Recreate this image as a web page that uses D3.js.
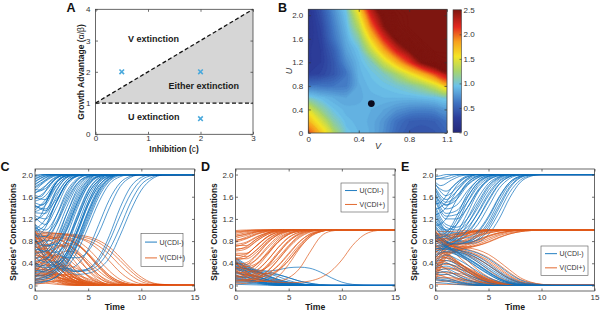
<!DOCTYPE html>
<html><head><meta charset="utf-8">
<script src="https://cdn.jsdelivr.net/npm/d3@7"></script>
<style>body{margin:0;background:#fff}svg{display:block}</style>
</head><body><svg width="600" height="312"></svg>
<script>
// ---------------- DATA ----------------
// Panel A: phase diagram
const aXTicks = [0, 1, 2, 3];
const aYTicks = [0, 1, 2, 3, 4];
const aDiagLine = [[0, 1], [3, 4]];
const aFlatLine = [[0, 1], [3, 1]];
const aCrosses = [[0.5, 2], [2, 2], [2, 0.5]];
const aRegionText = ["V extinction", "Either extinction", "U extinction"];
const aRegionAt = [[0.62, 2.96], [1.39, 1.45], [0.62, 0.45]];

// Panel B: heat map (rows: U values, cols: V values)
const bV = [0, 0.1, 0.2, 0.3, 0.4, 0.5, 0.6, 0.7, 0.8, 0.9, 1.0, 1.1];
const bU = [0, 0.2, 0.4, 0.6, 0.8, 1.0, 1.2, 1.4, 1.6, 1.8, 2.0, 2.2];
const bValues = [
  [2.05, 1.7, 1.3, 0.97, 0.9, 0.85, 0.72, 0.55, 0.45, 0.42, 0.45, 0.52],
  [1.75, 1.45, 1.1, 0.92, 0.88, 0.85, 0.75, 0.6, 0.5, 0.48, 0.5, 0.6],
  [1.45, 1.15, 0.95, 0.88, 0.87, 0.86, 0.82, 0.75, 0.7, 0.68, 0.7, 0.78],
  [1.0, 0.92, 0.86, 0.82, 0.85, 0.88, 0.9, 0.9, 0.9, 0.92, 0.95, 1.0],
  [0.6, 0.62, 0.62, 0.65, 0.85, 0.92, 0.95, 1.0, 1.08, 1.2, 1.4, 1.7],
  [0.3, 0.35, 0.45, 0.62, 0.88, 0.95, 1.05, 1.25, 1.5, 1.75, 2.05, 2.35],
  [0.25, 0.3, 0.45, 0.72, 0.9, 1.05, 1.4, 1.75, 2.1, 2.5, 2.75, 2.9],
  [0.25, 0.3, 0.5, 0.8, 0.95, 1.35, 1.8, 2.2, 2.5, 2.8, 3, 3],
  [0.22, 0.32, 0.6, 0.85, 1.1, 1.65, 2.15, 2.55, 2.8, 3, 3, 3],
  [0.2, 0.35, 0.65, 0.9, 1.3, 1.95, 2.45, 2.8, 3, 3, 3, 3],
  [0.2, 0.4, 0.7, 0.95, 1.5, 2.2, 2.6, 2.9, 3, 3, 3, 3],
  [0.2, 0.45, 0.75, 1.0, 1.7, 2.4, 2.75, 3, 3, 3, 3, 3]
];
const bXTicks = [0, 0.4, 0.8, 1.1];
const bYTicks = [0, 0.4, 0.8, 1.2, 1.6, 2.0];
const bBarTicks = [0, 0.5, 1.0, 1.5, 2.0, 2.5];
const bDot = [0.5, 0.5];

// Panels C-E: trajectories, "time value" key points
const timeTicks = [0, 5, 10, 15];
const concTicks = [0, 0.4, 0.8, 1.2, 1.6, 2.0];
const seriesNames = ["U(CDI-)", "V(CDI+)"];

const C_U = [
"0 1.96,0.5 1.99,1 2,15 2","0 1.91,1 1.99,2 2,15 2","0 1.86,0.5 1.93,1.5 2,15 2","0 1.81,1 1.95,2 2,15 2",
"0 1.76,0.5 1.82,1.5 1.97,2.5 2,15 2","0 1.71,1 1.88,2 1.98,3 2,15 2","0 1.63,0.5 1.6,1.5 1.85,3 2,15 2",
"0 1.56,1 1.7,2 1.93,3 2,15 2","0 1.49,0.7 1.45,2 1.85,3.5 2,15 2","0 1.41,1 1.5,2 1.85,3 1.98,4 2,15 2",
"0 1.31,1 1.3,2 1.7,3 1.95,4 2,15 2","0 1.23,1 1.1,2 1.4,3 1.8,4 1.97,5 2,15 2",
"0 1.16,0.5 1.25,1.5 1.7,2.5 1.95,3.5 2,15 2","0 1.06,1 0.95,2 1.15,3 1.6,4 1.9,5 2,15 2",
"0 1.01,1 1.2,2 1.6,3 1.9,4 2,15 2","0 0.93,1 0.8,2 0.85,3 1.3,4 1.75,5 1.95,6 2,15 2",
"0 0.86,1 1.05,2 1.5,3 1.85,4 1.98,5 2,15 2","0 0.79,1 0.7,2 0.8,3 1.15,4 1.6,5 1.9,6 2,15 2",
"0 0.71,1 0.6,2 0.6,3 0.8,4 1.25,5 1.7,6 1.93,7 2,15 2","0 0.63,1 0.75,2 1.1,3 1.55,4 1.85,5 1.97,6 2,15 2",
"0 0.56,1 0.5,2 0.55,3 0.8,4 1.2,5 1.65,6 1.9,7 2,15 2","0 0.49,1 0.55,2 0.85,3 1.3,4 1.7,5 1.93,6 2,15 2",
"0 0.41,1 0.35,2 0.4,3 0.6,4 1.0,5 1.5,6 1.85,7 1.98,8 2,15 2","0 0.36,1 0.45,2 0.75,3 1.2,4 1.65,5 1.9,6 2,15 2",
"0 0.31,1 0.28,2 0.35,3 0.55,4 0.95,5 1.45,6 1.8,7 1.96,8 2,15 2","0 0.26,1 0.3,2 0.5,3 0.9,4 1.4,5 1.8,6 1.97,7 2,15 2",
"0 0.21,1 0.2,2 0.28,3 0.45,4 0.8,5 1.3,6 1.72,7 1.93,8 2,15 2","0 0.16,1 0.2,2 0.35,3 0.7,4 1.2,5 1.65,6 1.9,7 2,15 2",
"0 0.13,1 0.14,2 0.22,3 0.4,4 0.75,5 1.2,6 1.65,7 1.9,8 2,15 2","0 0.09,1 0.12,2 0.25,3 0.55,4 1.0,5 1.5,6 1.85,7 1.97,8 2,15 2",
"0 1.05,1 0.7,2 0.45,3 0.32,4 0.27,5 0.3,6 0.45,7 0.8,8 1.25,9 1.65,10 1.9,11 1.98,12 2,15 2",
"0 0.95,1 0.65,2 0.42,3 0.3,4 0.25,5 0.27,6 0.38,7 0.65,8 1.05,9 1.5,10 1.82,11 1.95,12 2,15 2",
"0 0.85,1 0.55,2 0.35,3 0.25,4 0.2,5 0.22,6 0.3,7 0.5,8 0.9,9 1.35,10 1.72,11 1.92,12 1.99,15 2",
"0 0.75,1 0.5,2 0.34,3 0.27,4 0.25,5 0.3,6 0.5,7 0.9,8 1.4,9 1.78,10 1.95,11 2,15 2",
"0 1.1,1 0.8,2 0.6,3 0.5,4 0.5,5 0.62,6 0.95,7 1.4,8 1.78,9 1.95,10 2,15 2",
"0 0.65,1 0.45,2 0.32,3 0.3,4 0.38,5 0.65,6 1.1,7 1.55,8 1.85,9 1.97,10 2,15 2",
"0 1.66,1 1.8,2 1.95,3 2,15 2","0 1.36,1 1.55,2 1.85,3 1.98,4 2,15 2","0 1.45,1 1.35,2 1.55,3 1.85,4 1.98,5 2,15 2",
"0 1.98,0.5 2,15 2","0 1.93,0.5 1.97,1 2,15 2","0 1.88,1 1.97,2 2,15 2","0 1.83,0.5 1.88,1.5 1.98,2.5 2,15 2",
"0 1.78,1 1.9,2 1.99,3 2,15 2","0 1.73,0.5 1.72,1.5 1.9,2.5 1.99,3.5 2,15 2","0 1.68,1 1.75,2 1.93,3 2,15 2",
"0 1.58,1 1.55,2 1.8,3 1.96,4 2,15 2","0 1.52,1 1.62,2 1.88,3 1.99,4 2,15 2","0 1.43,1 1.38,2 1.65,3 1.9,4 1.99,5 2,15 2",
"0 1.33,1 1.45,2 1.78,3 1.96,4 2,15 2","0 1.26,1 1.2,2 1.5,3 1.84,4 1.97,5 2,15 2","0 1.18,1 1.32,2 1.72,3 1.94,4 2,15 2",
"0 1.1,1 1.0,2 1.25,3 1.65,4 1.91,5 1.99,6 2,15 2","0 0.98,1 1.1,2 1.5,3 1.85,4 1.98,5 2,15 2",
"0 0.9,1 0.88,2 1.1,3 1.5,4 1.84,5 1.97,6 2,15 2","0 0.82,1 0.72,2 0.75,3 1.0,4 1.45,5 1.8,6 1.96,7 2,15 2",
"0 0.74,1 0.85,2 1.25,3 1.7,4 1.93,5 2,15 2","0 0.66,1 0.62,2 0.72,3 1.05,4 1.5,5 1.84,6 1.97,7 2,15 2",
"0 0.58,1 0.62,2 0.95,3 1.42,4 1.8,5 1.96,6 2,15 2","0 0.52,1 0.42,2 0.42,3 0.6,4 0.98,5 1.45,6 1.8,7 1.96,8 2,15 2",
"0 0.44,1 0.48,2 0.7,3 1.1,4 1.55,5 1.87,6 1.98,7 2,15 2","0 0.38,1 0.32,2 0.36,3 0.52,4 0.86,5 1.32,6 1.72,7 1.93,8 2,15 2",
"0 0.33,1 0.38,2 0.62,3 1.02,4 1.5,5 1.84,6 1.97,7 2,15 2","0 0.28,1 0.24,2 0.3,3 0.48,4 0.85,5 1.35,6 1.76,7 1.95,8 2,15 2",
"0 0.23,1 0.26,2 0.42,3 0.78,4 1.28,5 1.72,6 1.94,7 2,15 2","0 0.18,1 0.17,2 0.25,3 0.42,4 0.72,5 1.15,6 1.6,7 1.88,8 1.98,9 2,15 2",
"0 0.11,1 0.16,2 0.3,3 0.6,4 1.08,5 1.58,6 1.88,7 1.98,8 2,15 2","0 0.06,1 0.08,2 0.15,3 0.32,4 0.62,5 1.05,6 1.5,7 1.83,8 1.96,9 2,15 2",
"0 0.04,1 0.07,2 0.16,3 0.38,4 0.76,5 1.25,6 1.68,7 1.92,8 1.99,9 2,15 2"
];
const C_V = [
"0 0.97,1 0.62,2 0.32,3 0.13,4 0.05,5 0.015,7 0,15 0","0 0.92,0.5 0.65,1.5 0.28,2.5 0.09,4 0.015,6 0,15 0",
"0 0.87,1 0.76,2 0.52,3 0.27,4 0.11,5 0.04,7 0,15 0","0 0.82,1 0.47,2 0.19,3 0.07,4 0.02,6 0,15 0",
"0 0.77,1 0.82,2 0.72,3 0.47,4 0.22,5 0.08,6 0.02,8 0,15 0","0 0.72,1 0.52,2 0.31,3 0.13,4 0.04,6 0,15 0",
"0 0.67,1 0.74,2 0.64,3 0.4,4 0.17,5 0.06,7 0,15 0","0 0.62,1 0.39,2 0.16,3 0.05,5 0,15 0",
"0 0.57,1 0.67,2 0.57,3 0.32,4 0.13,5 0.04,7 0,15 0","0 0.52,1 0.31,2 0.13,3 0.04,5 0,15 0",
"0 0.47,1 0.57,2 0.52,3 0.34,4 0.15,5 0.05,7 0,15 0","0 0.42,1 0.26,2 0.11,3 0.03,5 0,15 0",
"0 0.37,1 0.47,2 0.42,3 0.27,4 0.11,5 0.03,7 0,15 0","0 0.32,1 0.21,2 0.09,3 0.02,5 0,15 0",
"0 0.27,1 0.37,2 0.37,3 0.24,4 0.11,5 0.03,7 0,15 0","0 0.22,1 0.15,2 0.07,3 0.02,5 0,15 0",
"0 0.17,1 0.27,2 0.3,3 0.22,4 0.11,5 0.04,7 0,15 0","0 0.12,1 0.09,2 0.04,4 0,15 0",
"0 0.08,1 0.12,2 0.14,3 0.11,4 0.06,5 0.02,7 0,15 0","0 0.04,1 0.04,2 0.02,4 0,15 0",
"0 0.52,1 0.72,2 0.77,3 0.62,4 0.37,5 0.16,6 0.05,8 0,15 0","0 0.32,1 0.57,2 0.72,3 0.7,4 0.52,5 0.27,6 0.09,7 0.02,9 0,15 0",
"0 0.22,1 0.47,2 0.67,3 0.72,4 0.6,5 0.37,6 0.15,7 0.04,9 0,15 0","0 0.14,1 0.32,2 0.52,3 0.62,4 0.57,5 0.4,6 0.19,7 0.06,9 0,15 0",
"0 0.97,1 0.96,2 0.94,3 0.91,4 0.87,5 0.81,6 0.71,7 0.56,8 0.36,9 0.19,10 0.07,11 0.02,13 0,15 0",
"0 0.92,1 0.94,2 0.94,3 0.92,4 0.89,5 0.85,6 0.77,7 0.63,8 0.45,9 0.26,10 0.11,11 0.04,13 0,15 0",
"0 0.86,1 0.91,2 0.93,3 0.93,4 0.91,5 0.88,6 0.81,7 0.69,8 0.51,9 0.31,10 0.15,11 0.05,12 0.02,14 0,15 0",
"0 0.81,1 0.89,2 0.91,3 0.9,4 0.86,5 0.78,6 0.64,7 0.44,8 0.24,9 0.1,10 0.03,12 0,15 0",
"0 0.71,1 0.83,2 0.86,3 0.83,4 0.73,5 0.56,6 0.36,7 0.18,8 0.07,9 0.02,11 0,15 0",
"0 0.61,1 0.79,2 0.87,3 0.85,4 0.75,5 0.56,6 0.33,7 0.15,8 0.05,10 0,15 0",
"0 0.45,1 0.68,2 0.8,3 0.82,4 0.74,5 0.58,6 0.37,7 0.18,8 0.07,10 0,15 0",
"0 0.28,1 0.5,2 0.68,3 0.76,4 0.72,5 0.55,6 0.33,7 0.15,8 0.05,10 0,15 0",
"0 0.9,1 0.88,2 0.8,3 0.66,4 0.47,5 0.28,6 0.13,7 0.05,9 0,15 0",
"0 0.95,1 0.9,2 0.85,3 0.76,4 0.62,5 0.44,6 0.26,7 0.12,8 0.04,10 0,15 0",
"0 0.25,2 0.22,4 0.12,6 0.04,8 0,15 0","0 0.18,1 0.18,2 0.15,3 0.1,4 0.06,5 0.03,7 0,15 0",
"0 0.1,1 0.16,2 0.2,3 0.18,4 0.12,5 0.06,6 0.02,8 0,15 0","0 0.06,2 0.08,4 0.05,6 0.01,8 0,15 0",
"0 0.35,1 0.3,2 0.22,3 0.14,4 0.07,5 0.03,7 0,15 0","0 0.6,1 0.6,2 0.48,3 0.3,4 0.15,5 0.06,6 0.02,8 0,15 0",
"0 0.99,1 0.7,2 0.4,3 0.18,4 0.07,5 0.02,7 0,15 0","0 0.89,1 0.66,2 0.4,3 0.19,4 0.07,5 0.02,7 0,15 0",
"0 0.79,1 0.62,2 0.38,3 0.18,4 0.07,5 0.02,7 0,15 0","0 0.69,1 0.63,2 0.45,3 0.24,4 0.1,5 0.03,7 0,15 0",
"0 0.64,1 0.45,2 0.24,3 0.1,4 0.03,6 0,15 0","0 0.54,1 0.5,2 0.35,3 0.18,4 0.07,5 0.02,7 0,15 0",
"0 0.44,1 0.38,2 0.24,3 0.11,4 0.04,6 0,15 0","0 0.39,1 0.52,2 0.55,3 0.42,4 0.24,5 0.1,6 0.03,8 0,15 0",
"0 0.3,1 0.28,2 0.18,3 0.08,4 0.03,6 0,15 0","0 0.24,1 0.42,2 0.52,3 0.48,4 0.33,5 0.17,6 0.06,8 0,15 0",
"0 0.2,1 0.22,2 0.17,3 0.09,4 0.04,6 0,15 0","0 0.15,1 0.2,2 0.2,3 0.14,4 0.08,5 0.03,7 0,15 0",
"0 0.09,1 0.2,2 0.32,3 0.36,4 0.3,5 0.18,6 0.08,7 0.02,9 0,15 0","0 0.05,1 0.1,2 0.16,3 0.2,4 0.18,5 0.12,6 0.05,8 0,15 0",
"0 0.02,1 0.05,2 0.08,3 0.1,4 0.08,5 0.04,7 0,15 0","0 0.84,1 0.86,2 0.84,3 0.75,4 0.58,5 0.37,6 0.19,7 0.08,8 0.03,10 0,15 0",
"0 0.75,1 0.86,2 0.89,3 0.87,4 0.8,5 0.66,6 0.46,7 0.26,8 0.11,9 0.04,11 0,15 0"
];

const D_U = [
"0 0.48,1 0.36,2 0.25,3 0.16,4 0.09,5 0.04,6 0.02,8 0,15 0","0 0.44,1 0.31,2 0.19,3 0.1,4 0.05,5 0.02,7 0,15 0",
"0 0.4,1 0.26,2 0.14,3 0.07,4 0.03,6 0,15 0","0 0.36,1 0.3,2 0.24,3 0.17,4 0.1,5 0.05,6 0.02,8 0,15 0",
"0 0.33,1 0.21,2 0.11,3 0.05,4 0.02,6 0,15 0","0 0.3,1 0.23,2 0.16,3 0.1,4 0.05,5 0.02,7 0,15 0",
"0 0.26,1 0.16,2 0.08,3 0.04,5 0,15 0","0 0.23,1 0.2,2 0.16,3 0.11,4 0.06,5 0.03,7 0,15 0",
"0 0.19,1 0.12,2 0.07,3 0.03,5 0,15 0","0 0.16,1 0.14,2 0.11,3 0.08,4 0.05,5 0.02,7 0,15 0",
"0 0.13,1 0.09,2 0.05,4 0,15 0","0 0.09,1 0.08,2 0.06,3 0.035,5 0.01,7 0,15 0",
"0 0.05,1 0.04,3 0.015,5 0,15 0","0 0.02,2 0.01,4 0,15 0",
"0 0.42,1 0.31,2 0.26,3 0.26,4 0.28,5 0.32,6 0.33,7 0.31,8 0.24,9 0.14,10 0.06,11 0.02,13 0,15 0",
"0 0.38,1 0.29,2 0.24,3 0.21,4 0.16,5 0.09,6 0.04,7 0.015,9 0,15 0",
"0 0.28,1 0.26,2 0.24,3 0.22,4 0.19,5 0.14,6 0.08,7 0.04,8 0.015,10 0,15 0",
"0 0.5,1 0.38,2 0.27,3 0.18,4 0.11,5 0.06,6 0.03,8 0,15 0","0 0.46,1 0.33,2 0.22,3 0.13,4 0.07,5 0.03,7 0,15 0",
"0 0.42,1 0.34,2 0.26,3 0.18,4 0.11,5 0.06,6 0.03,8 0,15 0","0 0.34,1 0.25,2 0.17,3 0.1,4 0.05,5 0.02,7 0,15 0",
"0 0.31,1 0.27,2 0.21,3 0.14,4 0.08,5 0.04,6 0.02,8 0,15 0","0 0.24,1 0.18,2 0.12,3 0.07,4 0.03,6 0,15 0",
"0 0.21,1 0.19,2 0.15,3 0.1,4 0.06,5 0.03,7 0,15 0","0 0.17,1 0.15,2 0.12,3 0.08,4 0.05,5 0.025,7 0,15 0",
"0 0.14,1 0.11,2 0.07,3 0.04,4 0.02,6 0,15 0","0 0.11,1 0.1,2 0.08,3 0.05,4 0.03,6 0,15 0",
"0 0.07,1 0.06,2 0.04,4 0.01,6 0,15 0","0 0.35,1 0.3,2 0.28,3 0.25,4 0.2,5 0.14,6 0.08,7 0.04,9 0,15 0"
];
const D_V = [
"0 0.99,1 1,15 1","0 0.97,1 0.99,2 1,15 1","0 0.94,1 0.97,2 0.99,3 1,15 1","0 0.91,1 0.95,2 0.98,3 1,15 1",
"0 0.88,1 0.93,2 0.97,3 0.99,4 1,15 1","0 0.85,1 0.9,2 0.96,3 0.99,4 1,15 1","0 0.82,1 0.85,2 0.93,3 0.98,4 1,15 1",
"0 0.78,1 0.84,2 0.92,3 0.97,4 0.99,5 1,15 1","0 0.74,1 0.78,2 0.88,3 0.95,4 0.99,5 1,15 1",
"0 0.7,1 0.76,2 0.87,3 0.95,4 0.99,5 1,15 1","0 0.66,1 0.68,2 0.81,3 0.92,4 0.98,5 1,15 1",
"0 0.62,1 0.66,2 0.8,3 0.92,4 0.98,5 1,15 1","0 0.58,1 0.58,2 0.72,3 0.87,4 0.96,5 0.99,6 1,15 1",
"0 0.54,1 0.57,2 0.72,3 0.88,4 0.96,5 0.99,6 1,15 1","0 0.5,1 0.48,2 0.6,3 0.79,4 0.92,5 0.98,6 1,15 1",
"0 0.46,1 0.5,2 0.65,3 0.83,4 0.94,5 0.99,6 1,15 1","0 0.42,1 0.38,2 0.47,3 0.67,4 0.85,5 0.95,6 0.99,7 1,15 1",
"0 0.38,1 0.41,2 0.56,3 0.77,4 0.91,5 0.98,6 1,15 1","0 0.34,1 0.3,2 0.38,3 0.57,4 0.78,5 0.92,6 0.98,7 1,15 1",
"0 0.3,1 0.33,2 0.48,3 0.7,4 0.88,5 0.97,6 1,15 1","0 0.26,1 0.22,2 0.28,3 0.45,4 0.68,5 0.86,6 0.96,7 0.99,8 1,15 1",
"0 0.22,1 0.25,2 0.38,3 0.6,4 0.82,5 0.94,6 0.99,7 1,15 1","0 0.18,1 0.15,2 0.2,3 0.35,4 0.57,5 0.79,6 0.92,7 0.98,8 1,15 1",
"0 0.14,1 0.16,2 0.26,3 0.45,4 0.68,5 0.87,6 0.96,7 1,15 1","0 0.1,1 0.08,2 0.11,3 0.2,4 0.36,5 0.58,6 0.79,7 0.92,8 0.98,9 1,15 1",
"0 0.06,1 0.07,2 0.12,3 0.25,4 0.46,5 0.7,6 0.88,7 0.97,8 1,15 1","0 0.03,1 0.04,2 0.07,3 0.14,4 0.28,5 0.5,6 0.73,7 0.9,8 0.97,9 1,15 1",
"0 0.28,1 0.15,2 0.09,3 0.07,4 0.08,5 0.14,6 0.3,7 0.6,8 0.88,9 0.98,10 1,15 1",
"0 0.45,1 0.24,2 0.12,3 0.07,4 0.055,5 0.05,6 0.055,7 0.08,8 0.14,9 0.26,10 0.46,11 0.72,12 0.9,13 0.98,14 1,15 1",
"0 0.5,1 0.32,2 0.22,3 0.21,4 0.28,5 0.45,6 0.7,7 0.9,8 0.98,9 1,15 1",
"0 0.2,1 0.1,2 0.07,3 0.08,4 0.16,5 0.38,6 0.66,7 0.88,8 0.97,9 1,15 1",
"0 0.4,1 0.28,2 0.26,3 0.33,4 0.5,5 0.72,6 0.9,7 0.98,8 1,15 1",
"0 0.96,1 0.98,2 1,15 1","0 0.89,1 0.92,2 0.97,3 0.99,4 1,15 1","0 0.8,1 0.87,2 0.94,3 0.98,4 1,15 1",
"0 0.72,1 0.72,2 0.84,3 0.94,4 0.99,5 1,15 1","0 0.64,1 0.7,2 0.84,3 0.94,4 0.99,5 1,15 1",
"0 0.56,1 0.52,2 0.64,3 0.82,4 0.94,5 0.99,6 1,15 1","0 0.48,1 0.55,2 0.72,3 0.88,4 0.97,5 1,15 1",
"0 0.4,1 0.34,2 0.4,3 0.58,4 0.79,5 0.93,6 0.98,7 1,15 1","0 0.32,1 0.37,2 0.54,3 0.76,4 0.92,5 0.98,6 1,15 1",
"0 0.24,1 0.18,2 0.22,3 0.37,4 0.6,5 0.81,6 0.94,7 0.99,8 1,15 1","0 0.16,1 0.2,2 0.33,3 0.55,4 0.78,5 0.92,6 0.98,7 1,15 1",
"0 0.12,1 0.1,2 0.14,3 0.26,4 0.46,5 0.68,6 0.86,7 0.96,8 1,15 1","0 0.08,1 0.1,2 0.18,3 0.34,4 0.57,5 0.79,6 0.93,7 0.99,8 1,15 1",
"0 0.35,1 0.22,2 0.16,3 0.17,4 0.26,5 0.45,6 0.68,7 0.87,8 0.97,9 1,15 1",
"0 0.3,1 0.2,2 0.18,3 0.22,4 0.35,5 0.56,6 0.78,7 0.93,8 0.99,9 1,15 1"
];

const E_U = [
"0 1.96,0.5 1.98,1 2,15 2","0 1.91,1 1.96,2 2,15 2","0 1.86,0.5 1.8,1.5 1.9,2.5 1.98,3.5 2,15 2",
"0 1.81,1 1.7,2 1.85,3 1.96,4 2,15 2","0 1.76,1 1.55,2 1.7,3 1.9,4 1.98,5 2,15 2","0 1.71,1 1.45,2 1.55,3 1.8,4 1.94,5 2,15 2",
"0 1.62,1 1.3,2 1.35,3 1.6,4 1.85,5 1.97,6 2,15 2","0 1.52,1 1.2,2 1.2,3 1.4,4 1.7,5 1.9,6 1.98,7 2,15 2",
"0 1.42,1 1.1,2 1.05,3 1.2,4 1.5,5 1.8,6 1.95,7 2,15 2","0 1.32,1 1.0,2 0.95,3 1.05,4 1.3,5 1.62,6 1.87,7 1.97,8 2,15 2",
"0 1.22,1 0.95,2 0.88,3 0.92,4 1.1,5 1.42,6 1.75,7 1.93,8 1.99,9 2,15 2","0 1.12,1 0.9,2 0.82,3 0.8,4 0.88,5 1.1,6 1.45,7 1.78,8 1.95,9 2,15 2",
"0 1.02,1 0.85,2 0.78,3 0.75,4 0.78,5 0.92,6 1.2,7 1.58,8 1.86,9 1.97,10 2,15 2",
"0 0.97,1 0.8,2 0.76,3 0.76,4 0.84,5 1.05,6 1.4,7 1.75,8 1.94,9 1.99,10 2,15 2",
"0 1.47,0.5 1.5,1.5 1.75,2.5 1.93,3.5 2,15 2","0 1.27,1 1.4,2 1.7,3 1.92,4 2,15 2","0 1.07,1 1.2,2 1.55,3 1.85,4 1.97,5 2,15 2",
"0 0.9,1 0.95,2 1.25,3 1.65,4 1.9,5 1.98,6 2,15 2","0 0.8,1 0.85,2 1.1,3 1.5,4 1.82,5 1.96,6 2,15 2",
"0 0.7,1 0.77,2 0.95,3 1.3,4 1.68,5 1.9,6 1.98,7 2,15 2","0 0.6,1 0.72,2 0.85,3 1.1,4 1.45,5 1.77,6 1.94,7 2,15 2",
"0 0.5,1 0.69,2 0.78,3 0.92,4 1.2,5 1.55,6 1.83,7 1.96,8 2,15 2","0 0.9,1 0.76,2 0.74,3 0.77,4 0.9,5 1.15,6 1.52,7 1.83,8 1.96,9 2,15 2",
"0 1.6,1 1.45,2 1.6,3 1.82,4 1.95,5 2,15 2","0 1.15,1 1.0,2 1.1,3 1.4,4 1.72,5 1.92,6 1.99,7 2,15 2",
"0 0.45,1 0.6,2 0.55,3 0.45,4 0.32,5 0.2,6 0.1,7 0.04,8 0.01,10 0,15 0","0 0.4,1 0.5,2 0.42,3 0.3,4 0.18,5 0.09,6 0.04,8 0,15 0",
"0 0.35,1 0.45,2 0.38,3 0.25,4 0.13,5 0.06,6 0.02,8 0,15 0","0 0.3,1 0.35,2 0.28,3 0.17,4 0.08,5 0.03,7 0,15 0",
"0 0.25,1 0.3,2 0.22,3 0.12,4 0.05,5 0.02,7 0,15 0","0 0.2,1 0.2,2 0.14,3 0.07,4 0.03,6 0,15 0",
"0 0.15,1 0.13,2 0.08,3 0.04,5 0,15 0","0 0.1,1 0.08,2 0.05,3 0.02,5 0,15 0","0 0.05,1 0.04,2 0.02,4 0,15 0",
"0 0.92,1 0.72,2 0.65,3 0.6,4 0.52,5 0.4,6 0.26,7 0.14,8 0.06,9 0.02,11 0,15 0",
"0 0.82,1 0.7,2 0.62,3 0.55,4 0.45,5 0.32,6 0.2,7 0.1,8 0.04,10 0,15 0",
"0 0.72,1 0.68,2 0.6,3 0.5,4 0.38,5 0.25,6 0.13,7 0.06,8 0.02,10 0,15 0",
"0 0.62,1 0.65,2 0.58,3 0.48,4 0.36,5 0.23,6 0.12,7 0.05,9 0,15 0",
"0 1.05,1 0.8,2 0.7,3 0.64,4 0.58,5 0.48,6 0.35,7 0.21,8 0.1,9 0.04,10 0.015,12 0,15 0",
"0 1.93,1 1.92,2 1.98,3 2,15 2","0 1.83,1 1.62,2 1.76,3 1.93,4 2,15 2","0 1.73,1 1.5,2 1.62,3 1.85,4 1.97,5 2,15 2",
"0 1.66,1 1.38,2 1.45,3 1.7,4 1.9,5 1.99,6 2,15 2","0 1.56,1 1.25,2 1.28,3 1.5,4 1.78,5 1.94,6 2,15 2",
"0 1.37,1 1.05,2 1.0,3 1.12,4 1.4,5 1.72,6 1.92,7 1.99,8 2,15 2","0 1.27,1 0.98,2 0.92,3 0.98,4 1.2,5 1.52,6 1.82,7 1.96,8 2,15 2",
"0 1.17,1 0.92,2 0.85,3 0.86,4 0.98,5 1.25,6 1.6,7 1.86,8 1.97,9 2,15 2","0 1.07,1 0.87,2 0.8,3 0.78,4 0.82,5 1.0,6 1.32,7 1.68,8 1.9,9 1.98,10 2,15 2",
"0 1.37,1 1.5,2 1.8,3 1.96,4 2,15 2","0 0.85,1 0.9,2 1.18,3 1.58,4 1.86,5 1.97,6 2,15 2","0 0.65,1 0.74,2 0.9,3 1.2,4 1.57,5 1.84,6 1.96,7 2,15 2",
"0 0.55,1 0.7,2 0.8,3 1.0,4 1.32,5 1.66,6 1.89,7 1.98,8 2,15 2","0 0.95,1 0.78,2 0.75,3 0.79,4 0.95,5 1.22,6 1.58,7 1.86,8 1.97,9 2,15 2",
"0 0.42,1 0.55,2 0.48,3 0.37,4 0.25,5 0.14,6 0.07,7 0.03,9 0,15 0","0 0.32,1 0.4,2 0.33,3 0.21,4 0.11,5 0.05,7 0,15 0",
"0 0.22,1 0.25,2 0.18,3 0.1,4 0.04,6 0,15 0","0 0.12,1 0.1,2 0.06,3 0.03,5 0,15 0",
"0 0.87,1 0.71,2 0.64,3 0.58,4 0.49,5 0.36,6 0.23,7 0.12,8 0.05,9 0.02,11 0,15 0",
"0 0.77,1 0.69,2 0.61,3 0.53,4 0.42,5 0.29,6 0.17,7 0.08,8 0.03,10 0,15 0",
"0 0.67,1 0.66,2 0.59,3 0.49,4 0.37,5 0.24,6 0.13,7 0.05,9 0,15 0",
"0 0.52,1 0.62,2 0.56,3 0.46,4 0.33,5 0.21,6 0.1,7 0.04,9 0,15 0"
];
const E_V = [
"0 0.95,1 0.75,2 0.55,3 0.38,4 0.22,5 0.11,6 0.05,7 0.02,9 0,15 0","0 0.9,1 0.78,2 0.66,3 0.55,4 0.42,5 0.28,6 0.15,7 0.07,8 0.03,10 0,15 0",
"0 0.85,1 0.74,2 0.68,3 0.62,4 0.55,5 0.45,6 0.32,7 0.18,8 0.08,9 0.03,11 0,15 0",
"0 0.8,1 0.72,2 0.7,3 0.68,4 0.64,5 0.56,6 0.43,7 0.28,8 0.14,9 0.06,10 0.02,12 0,15 0",
"0 0.75,1 0.6,2 0.45,3 0.3,4 0.17,5 0.08,6 0.03,8 0,15 0","0 0.7,1 0.55,2 0.4,3 0.26,4 0.14,5 0.06,6 0.02,8 0,15 0",
"0 0.6,1 0.5,2 0.38,3 0.25,4 0.14,5 0.07,6 0.03,8 0,15 0","0 0.5,1 0.42,2 0.3,3 0.18,4 0.09,5 0.04,7 0,15 0",
"0 0.45,1 0.45,2 0.4,3 0.32,4 0.22,5 0.13,6 0.06,7 0.02,9 0,15 0","0 0.4,1 0.3,2 0.18,3 0.09,4 0.04,6 0,15 0",
"0 0.35,1 0.38,2 0.35,3 0.28,4 0.19,5 0.11,6 0.05,8 0,15 0","0 0.3,1 0.22,2 0.12,3 0.05,4 0.02,6 0,15 0",
"0 0.25,1 0.3,2 0.3,3 0.25,4 0.17,5 0.09,6 0.04,8 0,15 0","0 0.2,1 0.15,2 0.08,3 0.03,5 0,15 0",
"0 0.15,1 0.2,2 0.22,3 0.18,4 0.12,5 0.06,6 0.03,8 0,15 0","0 0.1,1 0.08,2 0.04,4 0,15 0",
"0 0.05,1 0.08,2 0.1,3 0.09,4 0.06,5 0.03,7 0,15 0","0 0.02,1 0.02,3 0.01,5 0,15 0",
"0 0.55,1 0.6,2 0.6,3 0.56,4 0.48,5 0.37,6 0.24,7 0.12,8 0.05,9 0.02,11 0,15 0",
"0 0.65,1 0.66,2 0.64,3 0.6,4 0.53,5 0.42,6 0.29,7 0.16,8 0.07,9 0.03,11 0,15 0",
"0 0.98,1 0.97,2 0.98,3 0.99,4 1,15 1","0 0.95,1 0.92,2 0.94,3 0.97,4 0.99,5 1,15 1",
"0 0.9,1 0.88,2 0.92,3 0.96,4 0.99,5 1,15 1","0 0.85,1 0.85,2 0.9,3 0.95,4 0.98,5 1,15 1",
"0 0.8,1 0.82,2 0.88,3 0.94,4 0.98,5 1,15 1","0 0.75,1 0.8,2 0.87,3 0.93,4 0.97,5 0.99,6 1,15 1",
"0 0.7,1 0.75,2 0.82,3 0.9,4 0.96,5 0.99,6 1,15 1","0 0.6,1 0.72,2 0.8,3 0.88,4 0.94,5 0.98,6 1,15 1",
"0 0.5,1 0.68,2 0.76,3 0.84,4 0.91,5 0.96,6 0.99,7 1,15 1","0 0.4,1 0.64,2 0.72,3 0.8,4 0.88,5 0.94,6 0.98,7 1,15 1",
"0 0.3,1 0.6,2 0.68,3 0.75,4 0.83,5 0.9,6 0.95,7 0.98,8 1,15 1","0 0.2,1 0.55,2 0.64,3 0.7,4 0.77,5 0.85,6 0.92,7 0.97,8 0.99,9 1,15 1",
"0 0.1,1 0.5,2 0.62,3 0.67,4 0.72,5 0.79,6 0.87,7 0.93,8 0.97,9 0.99,10 1,15 1",
"0 0.92,1 0.78,2 0.72,3 0.7,4 0.72,5 0.78,6 0.86,7 0.93,8 0.97,9 0.99,10 1,15 1",
"0 0.88,1 0.77,2 0.74,3 0.76,4 0.82,5 0.89,6 0.95,7 0.98,8 1,15 1",
"0 0.97,1 0.8,2 0.62,3 0.45,4 0.28,5 0.15,6 0.07,7 0.03,9 0,15 0","0 0.87,1 0.76,2 0.67,3 0.58,4 0.48,5 0.36,6 0.23,7 0.12,8 0.05,9 0.02,11 0,15 0",
"0 0.82,1 0.73,2 0.69,3 0.65,4 0.59,5 0.5,6 0.37,7 0.23,8 0.11,9 0.05,10 0.02,12 0,15 0",
"0 0.72,1 0.58,2 0.43,3 0.28,4 0.16,5 0.07,6 0.03,8 0,15 0","0 0.62,1 0.55,2 0.44,3 0.31,4 0.19,5 0.1,6 0.04,8 0,15 0",
"0 0.52,1 0.5,2 0.42,3 0.31,4 0.2,5 0.11,6 0.05,8 0,15 0","0 0.42,1 0.4,2 0.33,3 0.24,4 0.15,5 0.08,6 0.03,8 0,15 0",
"0 0.32,1 0.32,2 0.27,3 0.2,4 0.12,5 0.06,6 0.02,8 0,15 0","0 0.22,1 0.24,2 0.2,3 0.14,4 0.08,5 0.04,7 0,15 0",
"0 0.12,1 0.14,2 0.13,3 0.1,4 0.06,5 0.03,7 0,15 0",
"0 0.93,1 0.9,2 0.93,3 0.96,4 0.99,5 1,15 1","0 0.83,1 0.84,2 0.89,3 0.94,4 0.98,5 1,15 1",
"0 0.65,1 0.74,2 0.81,3 0.89,4 0.95,5 0.98,6 1,15 1","0 0.45,1 0.66,2 0.74,3 0.82,4 0.9,5 0.95,6 0.98,7 1,15 1",
"0 0.25,1 0.58,2 0.66,3 0.73,4 0.8,5 0.88,6 0.94,7 0.98,8 1,15 1","0 0.15,1 0.52,2 0.63,3 0.68,4 0.74,5 0.82,6 0.9,7 0.95,8 0.98,9 1,15 1"
];

// ---------------- DRAWING ----------------
const FONT = '"Liberation Sans", Arial, Helvetica, sans-serif';
const INK = "#333";
const BLUE = "#0a6fbb", ORANGE = "#df5a1b";
const svg = d3.select("svg").style("font-family", FONT);

function frame(g, x, y, xt, yt, xf, yf, ylabGap, xPad) {
  const [x0, x1] = x.range(), [yb, yt0] = y.range();
  const ax = (gen, tr, vals, fmt, pad) => {
    const a = g.append("g").attr("transform", tr).call(gen.tickValues(vals).tickSize(-2.5).tickPadding(pad).tickFormat(fmt));
    a.select(".domain").remove();
    a.selectAll("line").attr("stroke", INK).attr("stroke-width", 0.7);
    a.selectAll("text").attr("fill", INK).attr("font-size", 8).attr("font-family", FONT);
    return a;
  };
  ax(d3.axisBottom(x), `translate(0,${yb})`, xt, xf, xPad);
  ax(d3.axisTop(x), `translate(0,${yt0})`, xt, () => "", 3);
  const l = ax(d3.axisLeft(y), `translate(${x0},0)`, yt, yf, 3);
  l.selectAll("text").attr("x", -ylabGap);
  ax(d3.axisRight(y), `translate(${x1},0)`, yt, () => "", 3);
  g.append("rect").attr("x", x0).attr("y", yt0).attr("width", x1 - x0).attr("height", yb - yt0)
    .attr("fill", "none").attr("stroke", "#444").attr("stroke-width", 0.8);
}
function panelLetter(t, px, py) {
  svg.append("text").attr("x", px).attr("y", py).text(t).attr("font-weight", "bold").attr("font-size", 12.5).attr("fill", "#111");
}

// ---- Panel A ----
{
  const g = svg.append("g");
  const x = d3.scaleLinear().domain([0, 3]).range([95.5, 253]);
  const y = d3.scaleLinear().domain([0, 4]).range([134.3, 9.3]);
  const ln = d3.line().x(d => x(d[0])).y(d => y(d[1]));
  g.append("path").attr("d", ln([aDiagLine[0], aDiagLine[1], aFlatLine[1]]) + "Z").attr("fill", "#d6d6d6");
  [aDiagLine, aFlatLine].forEach(L => g.append("path").attr("d", ln(L))
    .attr("stroke", "#111").attr("stroke-width", 1.3).attr("stroke-dasharray", "4,2.5").attr("fill", "none"));
  aRegionText.forEach((t, i) => g.append("text").attr("x", x(aRegionAt[i][0])).attr("y", y(aRegionAt[i][1]))
    .attr("font-size", 9).attr("font-weight", "bold").attr("fill", "#1a1a1a").text(t));
  aCrosses.forEach(p => {
    const cx = x(p[0]), cy = y(p[1]), s = 2.3;
    g.append("path").attr("d", `M${cx - s},${cy - s}L${cx + s},${cy + s}M${cx - s},${cy + s}L${cx + s},${cy - s}`)
      .attr("stroke", "#4aa9dc").attr("stroke-width", 1.6);
  });
  frame(g, x, y, aXTicks, aYTicks, d3.format("d"), d3.format("d"), 5, 1.2);
  const xl = g.append("text").attr("x", 174).attr("y", 152).attr("text-anchor", "middle").attr("font-size", 8.3).attr("font-weight", "bold").attr("fill", "#1a1a1a");
  xl.append("tspan").text("Inhibition (");
  xl.append("tspan").attr("font-weight", "normal").text("c");
  xl.append("tspan").text(")");
  const yl = g.append("text").attr("transform", "translate(84,72) rotate(-90)").attr("text-anchor", "middle")
    .attr("font-size", 8.5).attr("font-weight", "bold").attr("fill", "#1a1a1a");
  yl.append("tspan").text("Growth Advantage (");
  yl.append("tspan").attr("font-weight", "normal").text("α/β");
  yl.append("tspan").text(")");
  panelLetter("A", 66.5, 11.5);
}

// ---- Panel B ----
{
  const g = svg.append("g");
  const x = d3.scaleLinear().domain([0, 1.1]).range([308.3, 447]);
  const y = d3.scaleLinear().domain([0, 2.1]).range([133, 9.3]);
  const color = d3.scaleLinear().domain([0, 0.3, 0.6, 0.95, 1.25, 1.55, 1.85, 2.15, 2.5])
    .range(["#25297a", "#2c3d9a", "#3f72c0", "#6cc2ea", "#a8d46c", "#f4e526", "#f7a11e", "#e3271f", "#7e1610"]).clamp(true);
  const nx = bV.length, ny = bU.length, dV = bV[1] - bV[0], dU = bU[1] - bU[0];
  const flat = [];
  for (let j = 0; j < ny; j++) for (let i = 0; i < nx; i++) flat.push(bValues[j][i]);
  const step = 0.04;
  const conts = d3.contours().size([nx, ny]).thresholds(d3.range(-0.1, 3.1, step))(flat);
  const smooth = d3.line().curve(d3.curveCatmullRomClosed.alpha(0.5));
  const toPx = ([px, py]) => [x(bV[0] + (px - 0.5) * dV), y(bU[0] + (py - 0.5) * dU)];
  g.append("clipPath").attr("id", "clipB").append("rect").attr("x", 308.3).attr("y", 9.3).attr("width", 447 - 308.3).attr("height", 133 - 9.3);
  const hg = g.append("g").attr("clip-path", "url(#clipB)");
  hg.selectAll("path").data(conts).join("path")
    .attr("d", c => c.coordinates.map(poly => poly.map(ring => smooth(ring.slice(0, -1).map(toPx))).join("")).join(""))
    .attr("fill", d => color(d.value + step / 2)).attr("stroke", d => color(d.value + step / 2)).attr("stroke-width", 0.3);
  g.append("circle").attr("cx", x(bDot[0])).attr("cy", y(bDot[1])).attr("r", 3.4).attr("fill", "#0b0b1e");
  const f1 = d => d === 0 ? "0" : d3.format(".1f")(d);
  frame(g, x, y, bXTicks, bYTicks, f1, f1, 5, 3);
  g.append("text").attr("transform", "translate(292,71) rotate(-90)").attr("text-anchor", "middle").attr("font-size", 9).attr("font-style", "italic").attr("fill", INK).text("U");
  g.append("text").attr("x", 378).attr("y", 149).attr("text-anchor", "middle").attr("font-size", 9).attr("font-style", "italic").attr("fill", INK).text("V");
  // colorbar
  const cb = d3.scaleLinear().domain([0, 2.5]).range([132.5, 9.8]);
  const grad = svg.append("defs").append("linearGradient").attr("id", "cbgrad").attr("x1", 0).attr("y1", 1).attr("x2", 0).attr("y2", 0);
  d3.range(0, 2.51, 0.05).forEach(v => grad.append("stop").attr("offset", v / 2.5).attr("stop-color", color(v)));
  g.append("rect").attr("x", 453).attr("y", cb(2.5)).attr("width", 8.5).attr("height", cb(0) - cb(2.5)).attr("fill", "url(#cbgrad)");
  const ca = g.append("g").attr("transform", "translate(461.5,0)").call(d3.axisRight(cb).tickValues(bBarTicks).tickSize(-2).tickPadding(2).tickFormat(f1));
  ca.select(".domain").remove();
  ca.selectAll("line").attr("stroke", INK).attr("stroke-width", 0.6);
  ca.selectAll("text").attr("fill", INK).attr("font-size", 8).attr("font-family", FONT);
  g.append("rect").attr("x", 453).attr("y", cb(2.5)).attr("width", 8.5).attr("height", cb(0) - cb(2.5)).attr("fill", "none").attr("stroke", "#444").attr("stroke-width", 0.6);
  panelLetter("B", 278, 11.5);
}

// ---- Panels C, D, E ----
function parseTraj(s) { return s.split(",").map(p => p.trim().split(/\s+/).map(Number)); }
function trajPanel(id, left, right, U, V, legendBox, letter) {
  const g = svg.append("g");
  const x = d3.scaleLinear().domain([0, 15]).range([left, right]);
  const y = d3.scaleLinear().domain([-0.1, 2.1]).range([291, 169]);
  g.append("clipPath").attr("id", "clip" + id).append("rect").attr("x", left).attr("y", 169).attr("width", right - left).attr("height", 122);
  const lg = g.append("g").attr("clip-path", `url(#clip${id})`);
  const line = d3.line().x(d => x(d[0])).y(d => y(d[1])).curve(d3.curveMonotoneX);
  const items = [];
  const n = Math.max(U.length, V.length);
  for (let i = 0; i < n; i++) {
    if (i < U.length) items.push({ p: parseTraj(U[i]), c: BLUE });
    if (i < V.length) items.push({ p: parseTraj(V[i]), c: ORANGE });
  }
  lg.selectAll("path").data(items).join("path").attr("d", d => line(d.p)).attr("fill", "none").attr("stroke", d => d.c).attr("stroke-width", 0.7);
  frame(g, x, y, timeTicks, concTicks, d3.format("d"), d => d === 0 ? "0" : d3.format(".1f")(d), 2, 3);
  g.append("text").attr("x", (left + right) / 2).attr("y", 310).attr("text-anchor", "middle").attr("font-size", 8.7).attr("font-weight", "bold").attr("fill", "#1a1a1a").text("Time");
  g.append("text").attr("transform", `translate(${left - 19},232) rotate(-90)`).attr("text-anchor", "middle").attr("font-size", 8.4).attr("font-weight", "bold").attr("fill", "#1a1a1a").text("Species' Concentrations");
  const [bx, by, bw, bh] = legendBox;
  g.append("rect").attr("x", bx).attr("y", by).attr("width", bw).attr("height", bh).attr("fill", "#fff").attr("stroke", "#555").attr("stroke-width", 0.6);
  [BLUE, ORANGE].forEach((c, i) => {
    const yy = by + bh * (i === 0 ? 0.26 : 0.74);
    g.append("line").attr("x1", bx + 4).attr("x2", bx + 16).attr("y1", yy).attr("y2", yy).attr("stroke", c).attr("stroke-width", 0.9);
    g.append("text").attr("x", bx + 18.5).attr("y", yy).attr("dy", "0.35em").attr("font-size", 7).attr("fill", INK).text(seriesNames[i]);
  });
  panelLetter(letter, left - 34.5, 170.5);
}
trajPanel("C", 35, 194.5, C_U, C_V, [141, 233.5, 42, 33], "C");
trajPanel("D", 235.5, 395, D_U, D_V, [341, 183, 47, 29], "D");
trajPanel("E", 435.5, 594.5, E_U, E_V, [541, 246, 47, 29.5], "E");
</script></body></html>
